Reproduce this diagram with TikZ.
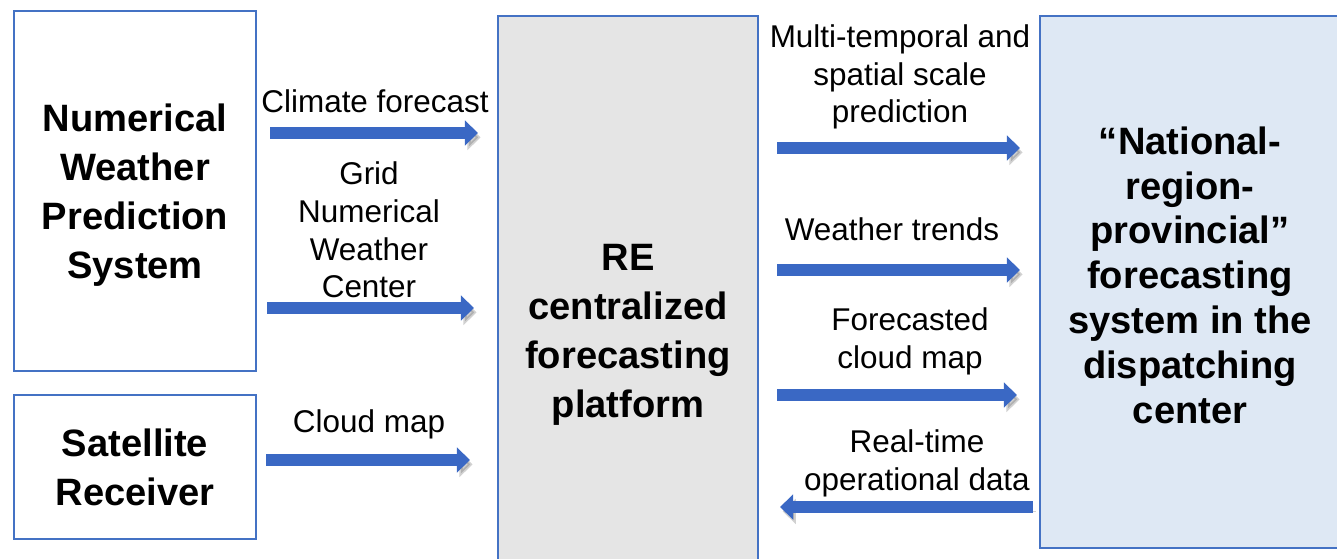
\documentclass[tikz,border=0pt]{standalone}
\usepackage{fontspec}
\setmainfont{Liberation Sans}
\usetikzlibrary{arrows.meta}
\definecolor{boxblue}{RGB}{68,114,196}
\definecolor{flowblue}{RGB}{58,104,196}
\definecolor{dispfill}{RGB}{222,232,244}
\definecolor{platgray}{RGB}{229,229,229}

\begin{document}
\begin{tikzpicture}[
  x=0.02cm, y=-0.02cm,
  BX/.style ={draw=boxblue, line width=1.1pt, align=center,
              font=\fontsize{21.7}{27.8}\selectfont\bfseries},
  LB/.style ={align=center, inner sep=0pt, font=\fontsize{17.9}{21.5}\selectfont},
  FL/.style ={-{Triangle[length=7.5pt, width=14pt]}, line width=7pt, flowblue,
              preaction={draw=black!60, opacity=0.3,
                         transform canvas={xshift=1.5pt, yshift=-2.5pt}}}
]
  \useasboundingbox (0,0) rectangle (1337,558);

  \node[BX, minimum width=4.84cm, minimum height=7.2cm] (nwp) at (135,191) {};
  \node[align=center, font=\fontsize{21.7}{27.8}\selectfont\bfseries] (nwptxt) at (135,195)
    {Numerical\\Weather\\Prediction\\System};
  \node[BX, minimum width=4.84cm, minimum height=2.88cm] (sat) at (135,467)
    {Satellite\\Receiver};
  \node[BX, fill=platgray, minimum width=5.2cm, minimum height=12.76cm] (plat) at (628,335)
    {RE\\centralized\\forecasting\\platform};
  \node[BX, fill=dispfill, minimum width=6.1cm, minimum height=10.64cm] (disp) at (1192,282) {};
  \node[align=center, font=\fontsize{21.7}{25.5}\selectfont\bfseries] (disptxt) at (1190,275)
    {“National-\\region-\\provincial”\\forecasting\\system in the\\dispatching\\center};

  \node[LB] (lcf)    at (375,101) {Climate forecast};
  \node[LB] (lgrid)  at (369,230) {Grid\\Numerical\\Weather\\Center};
  \node[LB] (lcloud) at (369,424) {Cloud map};
  \node[LB] (lmulti) at (900,77)  {Multi-temporal and\\spatial scale\\prediction};
  \node[LB] (ltrend) at (892,229) {Weather trends};
  \node[LB] (lfcm)   at (910,341) {Forecasted\\cloud map};
  \node[LB] (lreal)  at (917,463) {Real-time\\operational data};

  \coordinate (cf-s) at (270,133);  \coordinate (cf-e) at (478,133);
  \coordinate (gr-s) at (267,308);  \coordinate (gr-e) at (474,308);
  \coordinate (cm-s) at (266,460);  \coordinate (cm-e) at (470,460);
  \coordinate (mt-s) at (777,148);  \coordinate (mt-e) at (1020,148);
  \coordinate (wt-s) at (777,270);  \coordinate (wt-e) at (1020,270);
  \coordinate (fc-s) at (777,395);  \coordinate (fc-e) at (1017,395);
  \coordinate (rt-s) at (1033,507); \coordinate (rt-e) at (780,507);

  \foreach \a/\b in {cf-s/cf-e,gr-s/gr-e,cm-s/cm-e,mt-s/mt-e,wt-s/wt-e,fc-s/fc-e,rt-s/rt-e}
    \draw[FL] (\a)--(\b);
\end{tikzpicture}
\end{document}
